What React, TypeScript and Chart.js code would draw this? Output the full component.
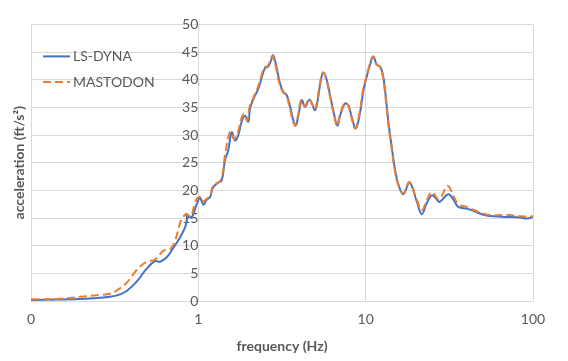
import React, { useEffect, useRef } from "react";
import { Chart, registerables } from "chart.js";

Chart.register(...registerables);

const seriesNames = ["LS-DYNA", "MASTODON"];

const lsDynaFreq = [0.1, 0.149, 0.196, 0.258, 0.296, 0.34, 0.373, 0.428, 0.49, 0.55, 0.59, 0.647, 0.709, 0.777, 0.833, 0.871, 0.913, 0.978, 1.024, 1.071, 1.122, 1.175, 1.229, 1.317, 1.38, 1.444, 1.511, 1.583, 1.657, 1.734, 1.817, 1.901, 1.99, 2.037, 2.132, 2.284, 2.393, 2.504, 2.621, 2.746, 2.807, 2.941, 3.078, 3.222, 3.376, 3.533, 3.697, 3.821, 3.96, 4.15, 4.343, 4.607, 4.8, 4.984, 5.15, 5.39, 5.588, 5.85, 6.127, 6.474, 6.775, 7.03, 7.53, 7.9, 8.26, 8.73, 9.26, 9.69, 10.15, 10.62, 11.12, 11.65, 12.19, 12.66, 13.06, 13.67, 14.32, 14.99, 15.68, 16.8, 18.3, 20.2, 21.64, 23.19, 24.85, 26.6, 27.6, 31.2, 33.5, 35.8, 40.2, 44, 50.5, 58, 69.7, 83.7, 91.8, 100];
const lsDynaAccel = [0.2, 0.25, 0.35, 0.6, 0.75, 1.2, 1.8, 3.5, 5.8, 7.2, 7.1, 7.9, 9.6, 11.5, 13.3, 15.3, 15.1, 17.5, 18.6, 17.4, 18.3, 18.8, 20.6, 21.4, 21.8, 25.5, 27.3, 30.5, 29.0, 30.0, 32.5, 33.5, 32.4, 34.8, 36.5, 38.4, 40.4, 42.1, 42.4, 43.8, 44.4, 42.1, 39.3, 37.8, 37.2, 35.2, 32.6, 31.7, 33.5, 36.3, 35.1, 36.4, 35.5, 34.5, 36.0, 39.8, 41.3, 40.0, 37.2, 33.8, 31.7, 33.5, 35.7, 35.3, 33.2, 31.2, 34.1, 38.0, 40.6, 42.7, 44.2, 42.7, 42.4, 41.0, 38.1, 32.4, 27.8, 23.7, 21.1, 19.3, 21.4, 18.0, 15.7, 17.7, 19.1, 18.4, 17.9, 19.3, 18.3, 17.0, 16.7, 16.3, 15.6, 15.3, 15.2, 15.1, 14.9, 15.2];

const mastodonFreq = [0.1, 0.149, 0.196, 0.258, 0.296, 0.325, 0.373, 0.428, 0.49, 0.55, 0.62, 0.68, 0.73, 0.79, 0.85, 0.9, 0.95, 0.985, 1.03, 1.071, 1.122, 1.175, 1.229, 1.35, 1.41, 1.444, 1.55, 1.64, 1.72, 1.8, 1.87, 1.96, 2.02, 2.12, 2.26, 2.37, 2.48, 2.6, 2.72, 2.78, 2.92, 3.05, 3.2, 3.35, 3.5, 3.67, 3.8, 3.94, 4.12, 4.32, 4.58, 4.78, 4.96, 5.12, 5.36, 5.56, 5.82, 6.1, 6.44, 6.74, 7.0, 7.48, 7.85, 8.22, 8.68, 9.2, 9.62, 10.1, 10.55, 11.05, 11.6, 12.15, 12.6, 13.0, 13.6, 14.25, 14.9, 15.6, 16.8, 18.3, 20.2, 21.64, 23.19, 24.85, 27.4, 30.9, 33.5, 35.8, 40.2, 44, 50.5, 58, 69.7, 83.7, 100];
const mastodonAccel = [0.3, 0.4, 0.75, 1.1, 1.3, 1.9, 3.3, 5.6, 7.1, 7.5, 9.1, 9.4, 11.1, 14.6, 15.7, 15.3, 17.5, 18.6, 18.8, 18.0, 18.5, 19.0, 20.9, 21.7, 23.8, 26.4, 30.6, 29.3, 30.4, 32.8, 33.8, 32.6, 35.0, 36.6, 38.5, 40.5, 42.2, 42.5, 43.9, 44.3, 42.0, 39.3, 37.8, 37.2, 35.2, 32.6, 31.7, 33.5, 36.3, 35.2, 36.5, 35.6, 34.6, 36.0, 39.8, 41.3, 40.0, 37.2, 33.8, 31.7, 33.5, 35.8, 35.4, 33.2, 31.2, 34.1, 38.0, 40.6, 42.7, 44.2, 42.7, 42.4, 41.0, 38.1, 32.4, 27.8, 23.7, 21.1, 19.5, 21.5, 18.3, 16.4, 18.2, 19.7, 18.4, 20.8, 19.0, 17.5, 17.0, 16.5, 15.8, 15.5, 15.6, 15.3, 15.3];

const xTickValues = [0.1, 1, 10, 100];
const xTickLabels = ["0", "1", "10", "100"];
const yMin = 0;
const yMax = 50;
const yStep = 5;

const xTitle = "frequency (Hz)";
const yTitle = "acceleration (ft/s\u00B2)";

const FONT = "Lato, 'Open Sans', sans-serif";
const TEXT = "#595959";
const GRID = "#D9D9D9";
const BLUE = "#4472C4";
const ORANGE = "#ED7D31";

const insideLegend = {
  id: "insideLegend",
  afterDraw(chart: any) {
    const ctx = chart.ctx;
    const area = chart.chartArea;
    ctx.save();
    ctx.font = `14px ${FONT}`;
    ctx.textBaseline = "middle";
    ctx.textAlign = "left";
    chart.data.datasets.forEach((ds: any, i: number) => {
      const y = area.top + 32 + i * 25.5;
      const x0 = area.left + 12;
      ctx.strokeStyle = ds.borderColor;
      ctx.lineWidth = 2;
      ctx.setLineDash(ds.borderDash || []);
      ctx.beginPath();
      ctx.moveTo(x0, y);
      ctx.lineTo(x0 + 27, y);
      ctx.stroke();
      ctx.setLineDash([]);
      ctx.fillStyle = TEXT;
      ctx.fillText(ds.label, x0 + 30, y + 0.5);
    });
    ctx.restore();
  },
};

export default function App() {
  const ref = useRef<HTMLCanvasElement | null>(null);

  useEffect(() => {
    if (!ref.current) return;
    const chart = new Chart(ref.current, {
      type: "line",
      data: {
        datasets: [
          {
            label: seriesNames[0],
            data: lsDynaFreq.map((f, i) => ({ x: f, y: lsDynaAccel[i] })),
            borderColor: BLUE,
            backgroundColor: BLUE,
            borderWidth: 2,
            pointRadius: 0,
            tension: 0.4,
            fill: false,
            order: 2,
          },
          {
            label: seriesNames[1],
            data: mastodonFreq.map((f, i) => ({ x: f, y: mastodonAccel[i] })),
            borderColor: ORANGE,
            backgroundColor: ORANGE,
            borderWidth: 2,
            borderDash: [8, 4],
            pointRadius: 0,
            tension: 0.4,
            fill: false,
            order: 1,
          },
        ],
      },
      options: {
        animation: false,
        responsive: false,
        maintainAspectRatio: false,
        layout: { padding: { top: 11, right: 35, left: 0, bottom: 0 } },
        plugins: {
          legend: { display: false },
          tooltip: { enabled: false },
        },
        scales: {
          x: {
            type: "logarithmic",
            position: "bottom",
            min: 0.1,
            max: 100,
            afterBuildTicks: (scale: any) => {
              scale.ticks = xTickValues.map((v) => ({ value: v, major: true }));
            },
            afterFit: (scale: any) => {
              scale.height = 60;
            },
            ticks: {
              autoSkip: false,
              maxRotation: 0,
              padding: 10,
              color: TEXT,
              font: { family: FONT, size: 14 },
              callback: (_v: any, i: number) => xTickLabels[i],
            },
            grid: { color: GRID, drawTicks: false, lineWidth: 1 },
            border: { display: false },
            title: {
              display: true,
              text: xTitle,
              color: TEXT,
              font: { family: FONT, size: 14, weight: "bold" },
              padding: { top: 0, bottom: 6 },
            },
          },
          y: {
            type: "linear",
            position: "left",
            min: yMin,
            max: yMax,
            ticks: { display: false, stepSize: yStep },
            afterFit: (scale: any) => {
              scale.width = 31;
            },
            grid: { color: GRID, drawTicks: false, lineWidth: 1 },
            border: { display: false },
            title: {
              display: true,
              text: yTitle,
              color: TEXT,
              font: { family: FONT, size: 14, weight: "bold" },
              padding: { top: 11, bottom: 0 },
            },
          },
          y2: {
            type: "linear",
            position: { x: 1 } as any,
            min: yMin,
            max: yMax,
            ticks: {
              stepSize: yStep,
              padding: 16,
              color: TEXT,
              font: { family: FONT, size: 14 },
            },
            grid: { display: false, drawTicks: false },
            border: { display: false },
          },
        },
      },
      plugins: [insideLegend],
    });
    return () => chart.destroy();
  }, []);

  return (
    <div style={{ position: "fixed", left: 0, top: 0, width: 568, height: 361, background: "#fff" }}>
      <canvas ref={ref} width={568} height={361} style={{ width: 568, height: 361 }} />
    </div>
  );
}
